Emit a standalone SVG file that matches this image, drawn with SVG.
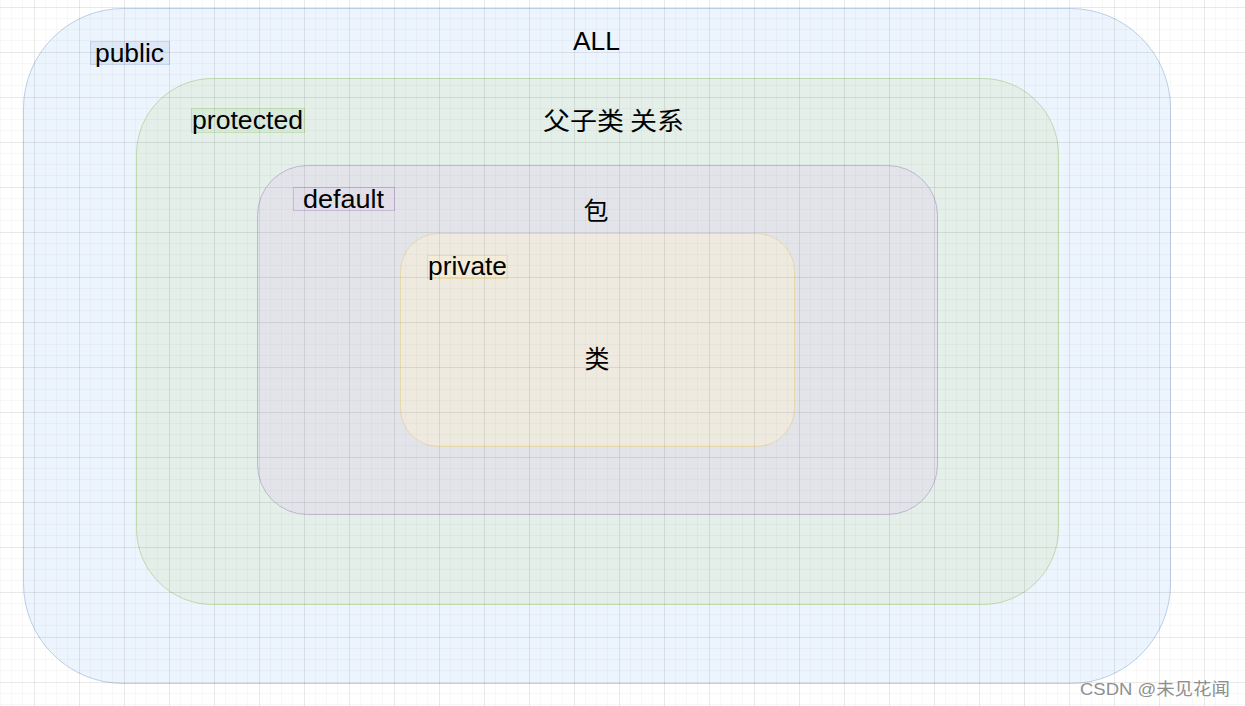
<svg xmlns="http://www.w3.org/2000/svg" width="1245" height="706" viewBox="0 0 1245 706">
<defs>
<pattern id="grid" x="34" y="7" width="45" height="45" patternUnits="userSpaceOnUse">
<path d="M11.5 0V45M22.5 0V45M33.5 0V45M0 11.5H45M0 22.5H45M0 33.5H45" stroke="#000" stroke-opacity="0.028" stroke-width="1" fill="none"/>
<path d="M0.5 0V45M0 0.5H45" stroke="#000" stroke-opacity="0.085" stroke-width="1" fill="none"/>
</pattern>
</defs>
<style>
text{font-family:"Liberation Sans",Arial,"Noto Sans CJK SC",sans-serif;font-size:25px;fill:#000}
.cjk{font-family:"Noto Sans CJK SC","Liberation Sans",sans-serif;font-size:25px}
.c{text-anchor:middle}
.wm{font-family:"Liberation Sans","Noto Sans CJK SC",sans-serif;font-size:17px;fill:#8f8f8f}
</style>
<rect width="1245" height="706" fill="#fff"/>
<g id="node-public">
<rect x="23.5" y="8.5" width="1147" height="675" rx="100" fill="#ecf4fd" stroke="#bccfe7"/>
<rect x="90.5" y="41.5" width="79" height="23" fill="#dce8f6" stroke="#c3d5ec"/>
</g>
<g id="node-protected">
<rect x="136.5" y="78.5" width="922" height="526" rx="76" fill="#e3efe8" stroke="#bedaae"/>
<rect x="191.5" y="108.5" width="113" height="24" fill="#d8eadb" stroke="#c2dfb5"/>
</g>
<g id="node-default">
<rect x="257.5" y="165.5" width="680" height="349" rx="50" fill="#e2e4ea" stroke="#c0b7cf"/>
<rect x="293.5" y="187.5" width="101" height="23" fill="#e3dfea" stroke="#c9bbd8"/>
</g>
<g id="node-private">
<rect x="400.5" y="233.5" width="394" height="213" rx="38" fill="#eeeadf" stroke="#e7d8aa"/>
<rect x="427.5" y="255.5" width="80" height="23" fill="#f2ecd9" stroke="#ebdcb0"/>
</g>
<rect width="1245" height="706" fill="url(#grid)"/>
<g id="labels">
<text x="95" y="62" textLength="69" lengthAdjust="spacingAndGlyphs">public</text>
<text x="573" y="50" textLength="47" lengthAdjust="spacingAndGlyphs">ALL</text>
<text x="192" y="129" textLength="111" lengthAdjust="spacingAndGlyphs">protected</text>
<text x="543" y="130" class="cjk" textLength="141" lengthAdjust="spacingAndGlyphs">父子类 关系</text>
<text x="303" y="208" textLength="81" lengthAdjust="spacingAndGlyphs">default</text>
<text x="596" y="220" class="cjk c">包</text>
<text x="428" y="275" textLength="79" lengthAdjust="spacingAndGlyphs">private</text>
<text x="597" y="368" class="cjk c">类</text>
</g>
<text x="1080" y="695" class="wm" textLength="150" lengthAdjust="spacingAndGlyphs">CSDN @未见花闻</text>
</svg>
